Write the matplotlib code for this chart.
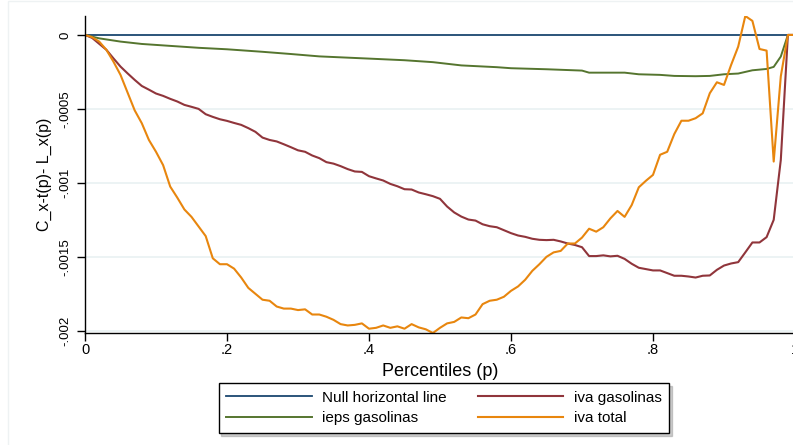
import numpy as np
import matplotlib
matplotlib.use("Agg")
import matplotlib.pyplot as plt
from matplotlib.patches import Rectangle

plt.rcParams['font.family'] = ['Liberation Sans', 'DejaVu Sans']

# percentiles grid (0.00 .. 1.00)
p = np.round(np.arange(101) * 0.01, 2)

# iva gasolinas (x 1e-4)
iva_gas = [0, -0.2, -0.6, -1.0, -1.58, -2.14, -2.6, -3.04, -3.45, -3.7,
           -3.96, -4.12, -4.32, -4.5, -4.73, -4.86, -5.0, -5.36, -5.54, -5.7,
           -5.81, -5.95, -6.08, -6.3, -6.55, -6.94, -7.1, -7.2, -7.39, -7.59,
           -7.8, -7.9, -8.15, -8.33, -8.6, -8.7, -8.87, -9.07, -9.23, -9.26,
           -9.55, -9.7, -9.84, -10.07, -10.23, -10.43, -10.45, -10.65, -10.77, -10.9,
           -11.08, -11.6, -12.0, -12.28, -12.48, -12.55, -12.8, -12.93, -13.0, -13.2,
           -13.4, -13.56, -13.65, -13.78, -13.85, -13.87, -13.85, -13.96, -14.1, -14.2,
           -14.35, -14.95, -14.95, -14.9, -14.97, -14.93, -15.14, -15.47, -15.74, -15.83,
           -15.92, -15.92, -16.1, -16.28, -16.28, -16.33, -16.4, -16.28, -16.26, -15.88,
           -15.59, -15.45, -15.36, -14.7, -14.03, -14.03, -13.67, -12.5, -8.45, 0, 0]

# iva total (x 1e-4)
iva_total = [0, -0.15, -0.45, -1.0, -1.8, -2.7, -3.9, -5.1, -5.97, -7.1,
             -7.9, -8.8, -10.25, -11.0, -11.8, -12.3, -12.95, -13.6, -15.1, -15.5,
             -15.5, -15.8, -16.4, -17.1, -17.5, -17.9, -17.97, -18.36, -18.5, -18.5,
             -18.6, -18.55, -18.9, -18.9, -19.05, -19.26, -19.55, -19.64, -19.6, -19.5,
             -19.86, -19.8, -19.64, -19.8, -19.7, -19.86, -19.55, -19.77, -19.9, -20.15,
             -19.8, -19.5, -19.4, -19.1, -19.15, -18.9, -18.2, -17.97, -17.9, -17.7,
             -17.3, -17.0, -16.55, -15.95, -15.5, -15.0, -14.7, -14.6, -14.1, -14.1,
             -13.7, -13.1, -13.3, -13.0, -12.4, -11.9, -12.3, -11.5, -10.3, -9.86,
             -9.46, -8.1, -7.9, -6.7, -5.8, -5.8, -5.63, -5.3, -3.94, -3.2,
             -3.38, -2.03, -0.79, 1.28, 0.95, -0.95, -1.06, -8.56, -2.8, 0, 0]

# ieps gasolinas (x 1e-4), read at selected percentiles
p_ieps = [0, 0.02, 0.05, 0.08, 0.12, 0.16, 0.2, 0.25, 0.29, 0.33, 0.4, 0.45,
          0.49, 0.53, 0.58, 0.6, 0.65, 0.7, 0.71, 0.74, 0.76, 0.78, 0.81, 0.83,
          0.86, 0.88, 0.9, 0.92, 0.94, 0.96, 0.97, 0.98, 0.99, 1.0]
ieps_gas = [0, -0.23, -0.45, -0.61, -0.74, -0.87, -0.97, -1.14, -1.29, -1.45, -1.6, -1.71,
            -1.84, -2.06, -2.18, -2.25, -2.32, -2.41, -2.55, -2.55, -2.55, -2.66, -2.7, -2.77,
            -2.79, -2.77, -2.66, -2.61, -2.39, -2.3, -2.16, -1.46, 0, 0]

null_line = [0] * len(p)

scale = 1e-4
yticks = [0, -0.0005, -0.001, -0.0015, -0.002]
ytick_labels = ["0", "-.0005", "-.001", "-.0015", "-.002"]
xticks = [0, 0.2, 0.4, 0.6, 0.8, 1.0]
xtick_labels = ["0", ".2", ".4", ".6", ".8", "1"]

c_null = "#1a476f"
c_red = "#90353b"
c_green = "#55752f"
c_orange = "#e8860e"

W, H = 793, 445
fig = plt.figure(figsize=(W / 100, H / 100), dpi=100)
fig.patch.set_facecolor("white")
fig.patches.append(Rectangle((8 / W, -0.01), 1.0, 1 - 1 / H + 0.01, transform=fig.transFigure,
                             facecolor="none", edgecolor="#eef2f3", lw=1.0))

ax = fig.add_axes([85 / W, (H - 333) / H, 710 / W, (333 - 16) / H])

for yt in yticks[1:]:
    ax.axhline(yt, color="#eaf2f3", lw=1.3, zorder=0)

l_null, = ax.plot(p, null_line, color=c_null, lw=1.3, label="Null horizontal line")
l_ieps, = ax.plot(p_ieps, np.array(ieps_gas) * scale, color=c_green, lw=1.4, label="ieps gasolinas")
l_red, = ax.plot(p, np.array(iva_gas) * scale, color=c_red, lw=1.5, label="iva gasolinas")
l_or, = ax.plot(p, np.array(iva_total) * scale, color=c_orange, lw=1.5, label="iva total")

ax.set_xlim(0, 1)
ax.set_ylim(min(iva_total) * scale, max(iva_total) * scale)
for s in ["top", "right"]:
    ax.spines[s].set_visible(False)
for s in ["left", "bottom"]:
    ax.spines[s].set_linewidth(1.0)

ax.set_yticks(yticks)
ax.set_yticklabels(ytick_labels, rotation=90, va="center", fontsize=9.5)
ax.set_xticks(xticks)
ax.set_xticklabels(xtick_labels, fontsize=10.5)
ax.tick_params(axis="y", length=6, width=1, pad=4)
ax.tick_params(axis="x", length=5.5, width=1, pad=2)
ax.set_xlabel("Percentiles (p)", fontsize=13, labelpad=4)
ax.set_ylabel("C_x-t(p)- L_x(p)", fontsize=11.5, labelpad=5)

leg = fig.legend(handles=[l_null, l_ieps, l_red, l_or], ncol=2,
                 loc="center", bbox_to_anchor=(444 / W, 1 - 408 / H),
                 fontsize=11, frameon=True, fancybox=False,
                 shadow={"color": "#9a9a9a"},
                 handlelength=5.6, handletextpad=0.7, columnspacing=2.0,
                 labelspacing=0.45, borderpad=0.5, borderaxespad=0)
leg.get_frame().set_edgecolor("black")
leg.get_frame().set_linewidth(1.0)

fig.savefig("out.png", dpi=100, facecolor="white")
